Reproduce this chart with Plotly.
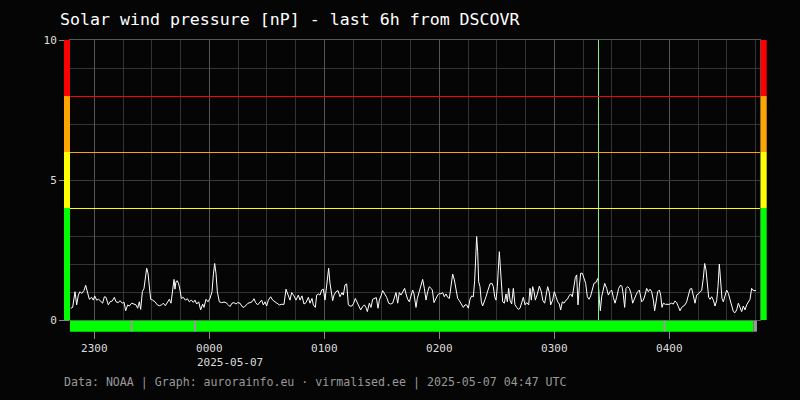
import pandas as pd
import plotly.graph_objects as go

title_text = "Solar wind pressure [nP] - last 6h from DSCOVR"
footer_text = "Data: NOAA | Graph: aurorainfo.eu · virmalised.ee | 2025-05-07 04:47 UTC"

window_start = "2025-05-06 22:47:20"
window_end = "2025-05-07 04:47:20"

# minutes after window_start
minutes = [
    0.35, 1.39, 2.61, 3.48, 4.35, 5.22, 6.09, 7.30, 8.17, 9.04, 10.09, 11.30, 12.17, 12.87, 13.91, 14.96,
    16.00, 17.04, 17.91, 18.78, 20.00, 20.87, 22.09, 23.13, 24.00, 25.22, 26.09, 27.30, 28.17, 29.04, 30.09,
    30.96, 32.17, 33.39, 34.43, 35.30, 36.17, 36.87, 37.74, 38.61, 39.30, 40.00, 40.70, 41.22, 42.09, 43.13,
    44.35, 45.57, 46.61, 47.83, 48.70, 49.74, 50.78, 51.83, 52.70, 53.57, 54.26, 54.78, 55.30, 56.00, 56.70,
    57.39, 58.09, 59.13, 60.17, 61.22, 62.26, 63.30, 64.35, 65.22, 66.09, 67.13, 68.17, 69.22, 69.91, 70.96,
    72.00, 73.04, 74.09, 74.78, 75.48, 76.17, 76.87, 77.91, 79.13, 80.35, 81.39, 82.61, 83.48, 84.52, 85.57,
    86.61, 87.48, 88.70, 89.74, 90.78, 91.83, 92.87, 93.91, 94.96, 96.00, 96.87, 97.91,
    99.13, 100.00, 100.87, 101.74, 102.61, 103.48, 104.70, 105.74, 106.96, 108.17, 109.22, 110.43, 111.65,
    112.70, 113.74, 114.78, 115.65, 116.87, 117.91, 119.13, 120.00, 121.04, 122.09, 123.13, 124.35, 125.22,
    126.26, 126.96, 128.00, 128.70, 129.74, 130.43, 131.30, 132.17, 133.04, 133.91, 134.96, 135.65, 136.35,
    137.04, 137.74, 138.78, 139.83, 140.87, 141.91, 142.61, 143.48, 144.35, 145.22, 146.09, 147.13, 148.00,
    148.87, 149.91, 150.78, 151.65, 152.70, 153.57, 154.43, 155.13, 156.17, 157.04, 157.91, 158.96, 159.83,
    160.70, 161.39, 162.43, 163.13, 164.17, 165.22, 166.26, 167.30, 168.35, 169.39, 170.09, 170.96, 171.83,
    172.70, 173.57, 174.61, 175.30, 176.17, 177.04, 177.91, 178.78, 179.48, 180.52, 181.22, 182.26, 183.30,
    184.00, 184.87, 185.74, 186.61, 187.48, 188.35, 189.04, 189.91, 190.96, 191.83, 192.70, 193.57, 194.43,
    195.30, 196.17, 197.04, 197.91, 198.78, 199.65, 200.52, 201.39, 202.26, 203.13,
    204.35, 205.22, 206.09, 206.96, 207.83, 208.70, 209.57, 210.43, 211.13, 211.83, 212.17, 212.70, 213.22,
    213.91, 214.61, 215.30, 216.17, 217.04, 218.09, 219.13, 220.17, 220.87, 221.57, 222.26, 222.96, 223.65,
    224.00, 224.52, 225.04, 225.74, 226.61, 227.48, 228.17, 228.87, 229.57, 230.43, 231.30, 232.17, 233.04,
    233.91, 234.78, 235.65, 236.52, 237.39, 238.26, 239.30, 240.00, 240.70, 241.39, 242.09, 242.78, 243.83,
    244.87, 245.91, 246.61, 247.65, 248.35, 249.22, 250.09, 250.78, 251.83, 252.70, 253.57, 254.43, 255.30,
    256.00, 256.87, 257.74, 258.78, 259.48, 260.35, 261.22, 262.09, 262.96, 263.65, 264.35, 265.04, 265.74,
    266.43, 267.30, 268.17, 269.04, 269.91, 270.78, 271.65, 272.52, 273.39, 274.26, 274.96, 275.48, 276.17,
    276.70, 277.39, 278.26, 278.96, 280.00, 280.87, 281.74, 282.61, 283.48, 284.35, 285.22, 286.26, 287.30,
    288.00, 288.70, 289.39, 290.09, 290.96, 291.83, 292.70, 293.57, 294.43, 295.30, 296.17, 297.04,
    298.26, 299.13, 300.00, 300.87, 301.74, 302.61, 303.48, 304.35, 305.04, 305.74, 306.61, 307.48, 308.17,
    308.87, 309.57, 310.61, 311.65, 312.70, 313.74, 314.78, 315.65, 316.52, 317.39, 318.26, 319.13, 320.00,
    320.87, 321.74, 322.61, 323.48, 324.35, 325.22, 326.09, 326.96, 327.83, 328.70, 329.57, 330.43, 331.13,
    331.83, 332.52, 333.22, 333.91, 334.78, 335.65, 336.52, 337.39, 338.09, 338.78, 339.48, 340.17, 340.87,
    341.74, 342.61, 343.48, 344.35, 345.22, 346.09, 346.96, 347.83, 348.70, 349.57, 350.43, 351.30, 352.17,
    353.04, 353.91, 354.78, 355.65, 356.17, 356.87, 357.91,
]

pressure = [
    0.42, 0.45, 1.01, 0.54, 0.89, 1.01, 0.95, 1.05, 1.24, 1.05, 0.74, 0.81, 0.71, 0.86, 0.71, 0.74,
    0.65, 0.60, 0.83, 0.81, 0.54, 0.65, 0.68, 0.81, 0.65, 0.62, 0.69, 0.60, 0.64, 0.33, 0.54,
    0.50, 0.60, 0.57, 0.54, 0.42, 0.65, 0.38, 1.01, 1.13, 1.49, 1.85, 1.67, 1.25, 0.74, 0.71,
    0.65, 0.54, 0.51, 0.54, 0.60, 0.51, 0.62, 0.74, 0.60, 1.13, 1.45, 1.10, 1.37, 1.40, 1.29,
    1.07, 0.77, 0.81, 0.71, 0.76, 0.65, 0.71, 0.63, 0.71, 0.57, 0.65, 0.36, 0.57, 0.45, 0.74,
    0.65, 0.77, 1.01, 1.61, 2.02, 1.67, 1.01, 0.65, 0.62, 0.64, 0.62, 0.54, 0.48, 0.60, 0.62,
    0.57, 0.62, 0.60, 0.48, 0.45, 0.54, 0.60, 0.62, 0.65, 0.76, 0.62, 0.54,
    0.65, 0.71, 0.54, 0.65, 0.50, 0.71, 0.83, 0.71, 0.65, 0.60, 0.54, 0.56, 0.56,
    1.10, 0.93, 0.71, 0.98, 0.86, 0.71, 0.89, 0.71, 0.86, 0.57, 0.62, 0.81, 0.60,
    0.77, 0.54, 0.45, 0.89, 0.93, 0.89, 1.07, 1.10, 0.71, 1.25, 1.85, 1.31, 1.01,
    0.69, 0.89, 1.01, 1.05, 0.83, 0.98, 0.89, 1.25, 1.29, 0.54, 0.50, 0.50, 0.60,
    0.77, 0.62, 0.45, 0.36, 0.48, 0.54, 0.45, 0.30, 0.60, 0.45, 0.74, 0.77, 0.80,
    0.42, 0.71, 0.89, 1.05, 0.93, 0.81, 0.60, 0.57, 0.60, 0.81, 0.98, 0.60, 0.98,
    0.89, 1.01, 1.13, 0.93, 0.74, 0.65, 0.86, 1.07, 0.93, 0.45, 0.77, 1.05, 1.31,
    1.45, 1.13, 0.71, 1.01, 1.19, 1.13, 1.07, 0.62, 0.77, 0.89, 0.95, 0.93, 0.98,
    0.83, 0.93, 0.81, 0.77, 1.25, 1.64, 1.43, 1.01, 0.77, 0.69,
    0.54, 0.45, 0.54, 0.54, 0.42, 0.74, 0.86, 0.83, 1.40, 2.50, 2.98, 2.44, 1.37,
    1.19, 0.65, 0.50, 0.65, 0.83, 1.07, 1.29, 1.31, 1.19, 0.83, 0.71, 1.19, 2.14,
    2.44, 1.90, 1.19, 0.65, 0.60, 0.93, 0.65, 1.13, 0.71, 0.57, 1.13, 0.54, 0.45,
    0.38, 0.42, 0.60, 0.81, 0.54, 0.62, 0.54, 1.13, 0.71, 1.19, 1.01, 0.71, 0.93,
    1.21, 1.01, 0.71, 0.60, 0.93, 1.19, 0.98, 0.54, 0.71, 1.01, 0.83, 0.65, 0.57,
    0.36, 0.65, 0.60, 0.71, 0.74, 0.86, 0.93, 0.83, 1.31, 1.52, 1.61, 0.54, 1.19,
    1.67, 1.67, 1.49, 1.31, 0.83, 0.74, 0.86, 1.07, 1.31, 1.33, 1.43, 1.49, 0.74,
    0.33, 0.83, 1.13, 1.31, 1.13, 0.89, 1.01, 1.07, 0.81, 0.60, 0.81, 1.13, 1.25,
    1.19, 0.89, 0.45, 1.13, 1.19, 1.13, 0.95, 0.60, 0.77, 0.89, 1.01, 1.07,
    0.65, 0.71, 0.89, 1.13, 1.01, 1.10, 1.01, 0.71, 0.33, 0.71, 1.01, 1.07, 0.89,
    0.45, 0.60, 0.56, 0.57, 0.56, 0.60, 0.57, 0.68, 0.62, 0.48, 0.33, 0.45, 0.50,
    0.54, 0.65, 0.93, 1.10, 1.13, 0.83, 0.60, 0.89, 0.93, 1.01, 1.05, 1.49, 2.02,
    1.79, 1.19, 0.81, 0.74, 0.83, 0.71, 0.50, 0.69, 1.19, 2.00, 1.19, 0.77, 0.65,
    0.83, 1.07, 0.95, 0.71, 0.54, 0.30, 0.26, 0.36, 0.60, 0.45, 0.30, 0.50, 0.36,
    0.54, 0.62, 0.74, 1.13, 1.07, 1.05, 1.05,
]

hour_ticks = ["2025-05-06 23:00", "2025-05-07 00:00", "2025-05-07 01:00",
              "2025-05-07 02:00", "2025-05-07 03:00", "2025-05-07 04:00"]
hour_labels = ["2300", "0000", "0100", "0200", "0300", "0400"]
date_label = "2025-05-07"
date_label_at = "2025-05-07 00:00"

y_ticks = [0, 5, 10]
y_max = 10

# colour bands on the sides
band_edges = [0, 4, 6, 8, 10]
band_colors = ["#00ff00", "#ffff00", "#ffa500", "#ff0000"]
# threshold lines
threshold_values = [4, 6, 8]
threshold_colors = ["#ffff00", "#ffa500", "#ff0000"]

marker_time = "2025-05-07 03:23:04"

# data-availability strip
status_ok_end = "2025-05-07 04:43:50"
status_end = "2025-05-07 04:45:45"
status_gaps = ["2025-05-06 23:19:00", "2025-05-06 23:52:00", "2025-05-07 03:57:00"]

BG = "#050505"
MONO = "DejaVu Sans Mono"

PLOT_W = 690.0
PLOT_H = 280.0
# half a pixel in y units, so 1px threshold lines land on a pixel row
HALF_PX_Y = 0.5 * y_max / PLOT_H

t0 = pd.Timestamp(window_start)
times = t0 + pd.to_timedelta(minutes, unit="min")

fig = go.Figure()
fig.add_trace(go.Scatter(x=times, y=pressure, mode="lines",
                         line=dict(color="#ffffff", width=1), hoverinfo="skip"))

shapes = []
# marker line
shapes.append(dict(type="line", xref="x", yref="y domain", x0=marker_time, x1=marker_time, y0=0, y1=1,
                   line=dict(color="#88ee88", width=1), layer="above"))
# threshold lines
for v, c in zip(threshold_values, threshold_colors):
    shapes.append(dict(type="line", xref="x domain", yref="y", x0=0, x1=1,
                       y0=v - HALF_PX_Y, y1=v - HALF_PX_Y,
                       line=dict(color=c, width=1), layer="above"))
# side colour bars
for i, c in enumerate(band_colors):
    for (xa, xb) in [(-6 / PLOT_W, 0), (1 + 0.7 / PLOT_W, 1 + 6.7 / PLOT_W)]:
        shapes.append(dict(type="rect", xref="paper", yref="y", x0=xa, x1=xb,
                           y0=band_edges[i], y1=band_edges[i + 1],
                           fillcolor=c, line=dict(width=0), layer="above"))
# status strip
sy0, sy1 = -11.7 / PLOT_H, -0.7 / PLOT_H
shapes.append(dict(type="rect", xref="x", yref="paper", x0=window_start, x1=status_ok_end,
                   y0=sy0, y1=sy1, fillcolor="#00ff00", line=dict(width=0), layer="above"))
shapes.append(dict(type="rect", xref="x", yref="paper", x0=status_ok_end, x1=status_end,
                   y0=sy0, y1=sy1, fillcolor="#999999", line=dict(width=0), layer="above"))
for g in status_gaps:
    gs = pd.Timestamp(g)
    shapes.append(dict(type="rect", xref="x", yref="paper", x0=gs, x1=gs + pd.Timedelta(minutes=1),
                       y0=sy0, y1=sy1, fillcolor="#999999", line=dict(width=0), layer="above"))

fig.update_layout(
    width=800, height=400,
    paper_bgcolor=BG, plot_bgcolor=BG,
    margin=dict(l=70, r=40, t=40, b=80),
    showlegend=False,
    font=dict(family=MONO, color="#dddddd", size=11),
    title=dict(text=title_text, x=60 / 800, xref="container", xanchor="left",
               y=1 - 19 / 400, yref="container", yanchor="middle",
               font=dict(family=MONO, size=16.6, color="#ffffff")),
    shapes=shapes,
    annotations=[
        dict(text=date_label, x=date_label_at, xref="x", y=(320 - 362) / PLOT_H, yref="paper",
             xanchor="left", yanchor="middle", xshift=-14.5, showarrow=False,
             font=dict(family=MONO, size=11, color="#dddddd")),
        dict(text=footer_text, x=(62 - 70) / PLOT_W, xref="paper", y=(320 - 382) / PLOT_H, yref="paper",
             xanchor="left", yanchor="middle", showarrow=False,
             font=dict(family=MONO, size=11.6, color="#999999")),
    ],
)

fig.update_xaxes(
    type="date", range=[window_start, window_end],
    tickvals=hour_ticks, ticktext=hour_labels,
    ticks="outside", ticklen=18, tickcolor="#888888", tickwidth=1,
    showgrid=True, gridcolor="#555555", gridwidth=1,
    minor=dict(dtick=15 * 60 * 1000, tick0="2025-05-06 23:00", showgrid=True,
               gridcolor="#333333", gridwidth=1, ticks=""),
    showline=True, linecolor="#555555", linewidth=1, mirror=True,
    zeroline=False, tickfont=dict(family=MONO, size=11, color="#dddddd"),
)
fig.update_yaxes(
    range=[0, y_max], tickvals=y_ticks,
    ticks="outside", ticklen=10, tickcolor="#888888", tickwidth=1,
    showgrid=True, gridcolor="#3a3a3a", gridwidth=1,
    minor=dict(dtick=1, showgrid=True, gridcolor="#333333", gridwidth=1, ticks=""),
    showline=True, linecolor="#555555", linewidth=1, mirror=True,
    zeroline=False, tickfont=dict(family=MONO, size=11, color="#dddddd"),
)

fig.write_html("out.html", config={"displayModeBar": False},
               post_script="document.body.style.margin='0';document.body.style.background='" + BG + "';")
